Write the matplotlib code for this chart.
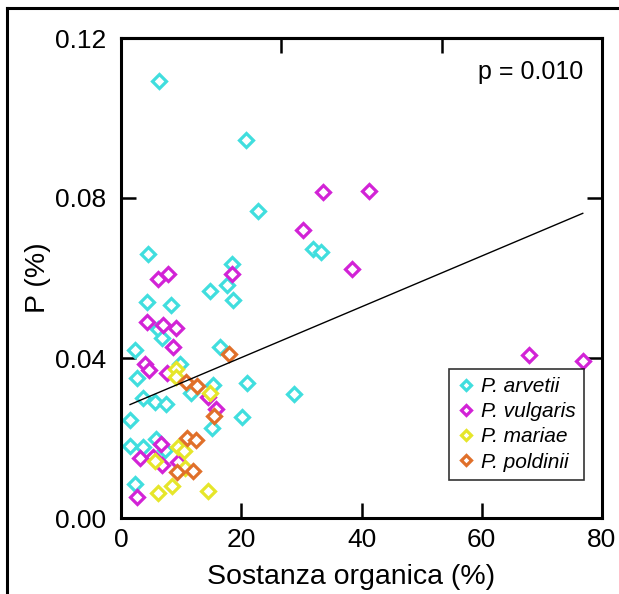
import matplotlib
matplotlib.use("Agg")
import matplotlib.pyplot as plt
from matplotlib.lines import Line2D
import numpy as np

plt.rcParams['font.family'] = ['Liberation Sans', 'DejaVu Sans']

# Organic matter (%) and phosphorus (%) per species
arvetii_x = [6.3, 20.8, 22.8, 4.5, 18.4, 17.6, 14.8, 18.7, 4.3, 8.3, 32.0, 33.3,
             6.2, 6.9, 2.3, 16.5, 9.8, 2.6, 15.3, 21.0, 28.7, 11.6, 3.7, 5.7,
             7.5, 20.2, 1.5, 15.1, 1.5, 3.6, 5.9, 7.3, 2.3]
arvetii_y = [0.1093, 0.0945, 0.0768, 0.0660, 0.0636, 0.0582, 0.0568, 0.0544,
             0.0541, 0.0533, 0.0673, 0.0664, 0.0472, 0.0449, 0.0420, 0.0428,
             0.0385, 0.0351, 0.0333, 0.0338, 0.0309, 0.0313, 0.0299, 0.0291,
             0.0285, 0.0253, 0.0245, 0.0224, 0.0181, 0.0177, 0.0197, 0.0170,
             0.0084]

vulgaris_x = [33.6, 41.3, 30.3, 38.4, 18.5, 6.2, 7.9, 4.3, 7.0, 9.1, 8.7, 4.0,
              4.7, 7.7, 14.5, 15.8, 6.6, 3.2, 6.8, 5.4, 9.5, 2.7, 67.8, 76.8]
vulgaris_y = [0.0815, 0.0818, 0.0720, 0.0623, 0.0609, 0.0598, 0.0610, 0.0489,
              0.0483, 0.0474, 0.0428, 0.0385, 0.0370, 0.0363, 0.0303, 0.0272,
              0.0185, 0.0149, 0.0133, 0.0152, 0.0141, 0.0053, 0.0407, 0.0393]

mariae_x = [9.1, 9.2, 14.8, 9.5, 10.5, 5.7, 10.6, 6.2, 8.4, 14.5]
mariae_y = [0.0372, 0.0353, 0.0312, 0.0178, 0.0168, 0.0143, 0.0126, 0.0063,
            0.0080, 0.0068]

poldinii_x = [17.9, 10.8, 12.7, 15.4, 10.9, 12.5, 9.3, 12.0]
poldinii_y = [0.0410, 0.0341, 0.0330, 0.0256, 0.0199, 0.0195, 0.0116, 0.0118]

# Linear regression line
fit_x = [1.5, 76.8]
fit_intercept = 0.0274
fit_slope = 0.000635
p_text = "p = 0.010"

x_ticks = [0, 20, 40, 60, 80]
y_ticks = [0.00, 0.04, 0.08, 0.12]

series = [
    ("P. arvetii", arvetii_x, arvetii_y, "#40dede"),
    ("P. vulgaris", vulgaris_x, vulgaris_y, "#d223d6"),
    ("P. mariae", mariae_x, mariae_y, "#e6e62a"),
    ("P. poldinii", poldinii_x, poldinii_y, "#e0702a"),
]

fig = plt.figure(figsize=(6.19, 5.94), dpi=100)
ax = fig.add_axes([121 / 619, 1 - 518 / 594, 481 / 619, 480 / 594])

for name, xs, ys, col in series:
    ax.plot(xs, ys, linestyle="none", marker="D", markersize=7.0,
            markerfacecolor="white", markeredgecolor=col,
            markeredgewidth=2.3, label=name)

fx = np.array(fit_x)
ax.plot(fx, fit_intercept + fit_slope * fx, color="black", linewidth=1.0)

ax.set_xlim(0, 80)
ax.set_ylim(0, 0.12)
ax.set_xticks(x_ticks)
ax.set_yticks(y_ticks)
ax.set_yticklabels([f"{v:.2f}" for v in y_ticks])
ax.tick_params(axis="both", direction="in", length=11, width=1.8,
               labelsize=19, top=False, right=True)
ax.tick_params(axis="x", pad=7.5)
ax.tick_params(axis="y", pad=10.5)
for s in ax.spines.values():
    s.set_linewidth(2.2)

top = ax.secondary_xaxis("top", functions=(lambda v: v * 3 / 80,
                                            lambda v: v * 80 / 3))
top.set_xticks([1, 2])
top.tick_params(direction="in", length=11, width=1.8, labeltop=False)
top.spines["top"].set_linewidth(2.2)

ax.set_xlabel("Sostanza organica (%)", fontsize=20.5)
ax.xaxis.set_label_coords(0.478, -0.095)
ax.set_ylabel("P (%)", fontsize=20.5)
ax.yaxis.set_label_coords(-0.146, 0.5)

ax.text(0.96, 0.929, p_text, transform=ax.transAxes, ha="right", va="center",
        fontsize=18)

leg = ax.legend(loc="lower left", bbox_to_anchor=(0.682, 0.079),
                prop={"style": "italic", "size": 15}, frameon=True,
                fancybox=False, edgecolor="black", borderpad=0.4,
                labelspacing=0.3, handlelength=0.8, handletextpad=0.35,
                markerscale=0.8, borderaxespad=0)
leg.get_frame().set_linewidth(1.2)

# Outer frame lines along the top and left of the figure
fy = 1 - 8 / 594
fxl = 7 / 619
fig.add_artist(Line2D([fxl, 1], [fy, fy], color="black", linewidth=2.2,
                      transform=fig.transFigure))
fig.add_artist(Line2D([fxl, fxl], [0, fy], color="black", linewidth=2.2,
                      transform=fig.transFigure))

fig.savefig("out.png", dpi=100)
